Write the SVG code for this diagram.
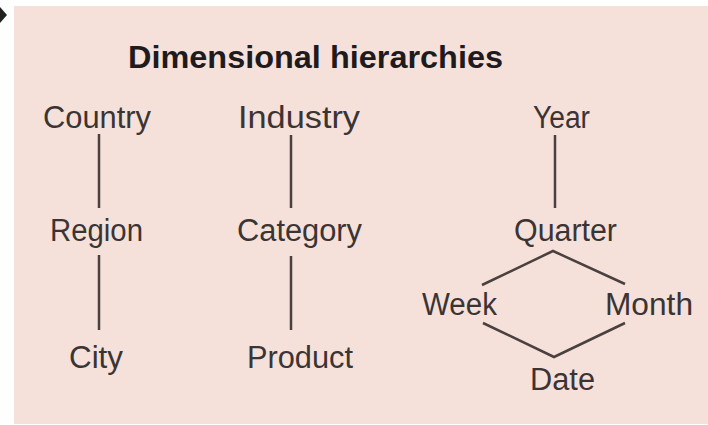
<svg xmlns="http://www.w3.org/2000/svg" width="708" height="425" viewBox="0 0 708 425">
  <style>
    .lbl { font-family: "Liberation Sans", Arial, sans-serif; font-size: 31px; fill: #3b3434; text-anchor: middle; }
    .title { font-family: "Liberation Sans", Arial, sans-serif; font-size: 32px; font-weight: bold; fill: #1f1a1e; }
    .conn line, .conn polyline { stroke: #4a4040; stroke-width: 2.5; fill: none; stroke-linecap: butt; }
  </style>
  <rect x="0" y="0" width="708" height="425" fill="#ffffff"/>
  <rect x="14" y="6" width="694" height="418" fill="#f5e1d9"/>
  <polygon points="0,7 7,15 0,23" fill="#222222"/>
  <text class="title" x="128" y="68" textLength="375" lengthAdjust="spacingAndGlyphs">Dimensional hierarchies</text>

  <g class="conn" id="connectors">
    <line x1="99" y1="134" x2="99" y2="208"/>
    <line x1="99" y1="255" x2="99" y2="330"/>
    <line x1="291" y1="135" x2="291" y2="208"/>
    <line x1="291" y1="256" x2="291" y2="330"/>
    <line x1="555" y1="135" x2="555" y2="208"/>
    <polyline points="482,285 553,251 625,284"/>
    <polyline points="483,323 554,357 625,323"/>
  </g>

  <g id="country"><text class="lbl" x="97" y="128" textLength="108" lengthAdjust="spacingAndGlyphs">Country</text></g>
  <g id="region"><text class="lbl" x="96.5" y="241" textLength="93" lengthAdjust="spacingAndGlyphs">Region</text></g>
  <g id="city"><text class="lbl" x="96" y="368" textLength="54" lengthAdjust="spacingAndGlyphs">City</text></g>
  <g id="industry"><text class="lbl" x="299" y="128" textLength="122" lengthAdjust="spacingAndGlyphs">Industry</text></g>
  <g id="category"><text class="lbl" x="299.5" y="241" textLength="125" lengthAdjust="spacingAndGlyphs">Category</text></g>
  <g id="product"><text class="lbl" x="300" y="368" textLength="106" lengthAdjust="spacingAndGlyphs">Product</text></g>
  <g id="year"><text class="lbl" x="561.5" y="128" textLength="57" lengthAdjust="spacingAndGlyphs">Year</text></g>
  <g id="quarter"><text class="lbl" x="565.5" y="241" textLength="103" lengthAdjust="spacingAndGlyphs">Quarter</text></g>
  <g id="week"><text class="lbl" x="459.5" y="315" textLength="75" lengthAdjust="spacingAndGlyphs">Week</text></g>
  <g id="month"><text class="lbl" x="649" y="315" textLength="88" lengthAdjust="spacingAndGlyphs">Month</text></g>
  <g id="date"><text class="lbl" x="562.5" y="390" textLength="65" lengthAdjust="spacingAndGlyphs">Date</text></g>
</svg>
